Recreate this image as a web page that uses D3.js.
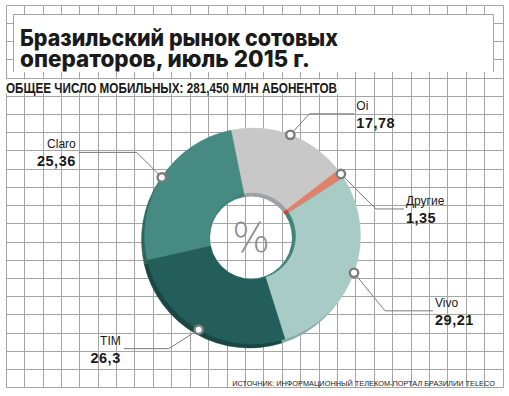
<!DOCTYPE html>
<html><head><meta charset="utf-8">
<script src="https://cdn.jsdelivr.net/npm/d3@7"></script>
<style>body{margin:0;background:#fff}svg{display:block}</style>
</head><body>
<svg id="c" width="509" height="396"></svg>
<script>
// ---- data ----
const categories = ["Oi", "Другие", "Vivo", "TIM", "Claro"];
const values = [17.78, 1.35, 29.21, 26.3, 25.36];
const valueLabels = ["17,78", "1,35", "29,21", "26,3", "25,36"];
const titleLines = ["Бразильский рынок сотовых", "операторов, июль 2015 г."];
const subtitle = "ОБЩЕЕ ЧИСЛО МОБИЛЬНЫХ: 281,450 МЛН АБОНЕНТОВ";
const source = "ИСТОЧНИК: ИНФОРМАЦИОННЫЙ ТЕЛЕКОМ-ПОРТАЛ БРАЗИЛИИ TELECO";
const centerSymbol = "%";

// ---- styles ----
const faceColors = ["#c8c8c9", "#e0826a", "#a9cbc6", "#235e5b", "#468a82"];
const sideColors = ["#a6a6a7", "#b84a38", "#86aaa5", "#184744", "#2c645e"];
const wallColors = ["#a0a1a2", "#c8442f", "#3f857c", "#3f857c", "#3f857c"];
// leader layout per slice: diagonal dx,dy from marker, horizontal run (signed)
const leaderLayout = {
  "Oi":     {dx: 19,  dy: -21, run: 45},
  "Другие": {dx: 35,  dy: 35,  run: 28},
  "Vivo":   {dx: 31,  dy: 38,  run: 48},
  "TIM":    {dx: -30, dy: 19,  run: -45},
  "Claro":  {dx: -25, dy: -25, run: -58}
};

const svg = d3.select("#c");
const gridColor = "#a5a5a5";

// ---- grid ----
const gx0 = 5.7, gx1 = 502.5, gy0 = 4.7, gy1 = 387.3;
const nCols = 27, nRows = 21;
const xs = d3.range(nCols + 1).map(i => Math.round(gx0 + (gx1 - gx0) * i / nCols) + 0.5);
const ys = d3.range(nRows + 1).map(i => Math.round(gy0 + (gy1 - gy0) * i / nRows) + 0.5);
function drawGrid(g) {
  g.selectAll("line.v").data(xs).join("line").attr("class", "v")
    .attr("x1", d => d).attr("x2", d => d).attr("y1", ys[0]).attr("y2", ys[ys.length - 1]);
  g.selectAll("line.h").data(ys).join("line").attr("class", "h")
    .attr("y1", d => d).attr("y2", d => d).attr("x1", xs[0]).attr("x2", xs[xs.length - 1]);
}
drawGrid(svg.append("g").attr("stroke", gridColor).attr("stroke-width", 1));

// ---- title box ----
svg.append("rect").attr("x", 13.5).attr("y", 14.5).attr("width", 480).attr("height", 57.5).attr("fill", "#fff");
svg.append("path").attr("d", "M13.5,72V14.5H493.5V72").attr("fill", "none").attr("stroke", gridColor).attr("stroke-width", 1);
const titleTargets = [{x: 20, y: 45.5, w: 318}, {x: 20, y: 66.5, w: 290}];
const titleText = svg.append("text")
  .attr("font-family", "Inter, 'DejaVu Sans', sans-serif").attr("font-weight", 800)
  .attr("font-size", 22.5).attr("fill", "#1a1a1a");
titleLines.forEach((t, i) => {
  titleText.append("tspan").attr("x", titleTargets[i].x).attr("y", titleTargets[i].y)
    .attr("textLength", titleTargets[i].w).attr("lengthAdjust", "spacingAndGlyphs")
    .text(t);
});

// ---- subtitle ----
svg.append("rect").attr("x", 5).attr("y", 79.5).attr("width", 333).attr("height", 14).attr("fill", "#fff");
svg.append("text").attr("x", 6).attr("y", 92.5)
  .attr("font-family", "'Liberation Sans Narrow', 'Liberation Sans', sans-serif").attr("font-weight", "bold")
  .attr("font-size", 15.5).attr("fill", "#1a1a1a")
  .attr("textLength", 331).attr("lengthAdjust", "spacingAndGlyphs")
  .text(subtitle);

// ---- pie ----
const cx = 252.5, cy = 236, R = 108;
const sideOff = {x: -3, y: 4};
const start = -11.5 * Math.PI / 180;
const pie = d3.pie().sort(null).value(d => d).startAngle(start).endAngle(start + 2 * Math.PI);
const arcs = pie(values);
const arcOuter = d3.arc().innerRadius(0).outerRadius(R);

svg.append("g").attr("transform", `translate(${cx + sideOff.x},${cy + sideOff.y})`)
  .selectAll("path").data(arcs).join("path")
  .attr("d", arcOuter).attr("fill", (d, i) => sideColors[i])
  .attr("stroke", (d, i) => sideColors[i]).attr("stroke-width", 0.5);

svg.append("g").attr("transform", `translate(${cx},${cy})`)
  .selectAll("path").data(arcs).join("path")
  .attr("d", arcOuter).attr("fill", (d, i) => faceColors[i])
  .attr("stroke", (d, i) => faceColors[i]).attr("stroke-width", 0.5);

// inner wall
const wallArc = d3.arc().innerRadius(0).outerRadius(43);
svg.append("g").attr("transform", `translate(${cx},${cy})`)
  .selectAll("path").data(arcs).join("path")
  .attr("d", wallArc).attr("fill", (d, i) => wallColors[i])
  .attr("stroke", (d, i) => wallColors[i]).attr("stroke-width", 0.5);

// hole (white) with grid clipped inside
const hole = {x: cx - 1.5, y: cy + 1.5, r: 41};
svg.append("clipPath").attr("id", "holeClip").append("circle")
  .attr("cx", hole.x).attr("cy", hole.y).attr("r", hole.r);
svg.append("circle").attr("cx", hole.x).attr("cy", hole.y).attr("r", hole.r).attr("fill", "#fff");
drawGrid(svg.append("g").attr("clip-path", "url(#holeClip)").attr("stroke", gridColor).attr("stroke-width", 1));

svg.append("text").attr("x", cx - 1.5).attr("y", cy + 15.5).attr("text-anchor", "middle")
  .attr("font-family", "'DejaVu Sans', sans-serif").attr("font-weight", 200)
  .attr("font-size", 40).attr("fill", "#8e8e8e").text(centerSymbol);

// ---- leaders & labels ----
const markerR = 108;
const lab = svg.append("g");
arcs.forEach((a, i) => {
  const name = categories[i];
  const L = leaderLayout[name];
  const mid = (a.startAngle + a.endAngle) / 2;
  const mx = cx + markerR * Math.sin(mid), my = cy - markerR * Math.cos(mid);
  const ex = mx + L.dx, ey = my + L.dy;
  const hx = ex + L.run;
  lab.append("polyline").attr("points", `${mx},${my} ${ex},${ey} ${hx},${ey}`)
    .attr("fill", "none").attr("stroke", "#7a7a7a").attr("stroke-width", 1);
  lab.append("circle").attr("cx", mx).attr("cy", my).attr("r", 4.2)
    .attr("fill", "#fff").attr("stroke", "#7c7c7c").attr("stroke-width", 2.4);
  const right = L.run > 0;
  const tx = right ? hx + 2 : hx - 3;
  const anchor = right ? "start" : "end";
  lab.append("text").attr("x", tx).attr("y", ey - 4).attr("text-anchor", anchor)
    .attr("font-family", "'Liberation Sans Narrow', 'Liberation Sans', sans-serif")
    .attr("font-size", 12).attr("fill", "#1a1a1a").text(name);
  lab.append("text").attr("x", tx).attr("y", ey + 14).attr("text-anchor", anchor)
    .attr("font-family", "'Liberation Sans', Arial, sans-serif").attr("font-weight", "bold")
    .attr("font-size", 14.5).attr("letter-spacing", 0.5).attr("fill", "#1a1a1a").text(valueLabels[i]);
});

// ---- source (font size fitted to the available width) ----
const src = svg.append("text").attr("x", 495).attr("y", 385.5).attr("text-anchor", "end")
  .attr("font-family", "'Liberation Sans Narrow', 'Liberation Sans', sans-serif")
  .attr("font-size", 10.5).attr("fill", "#1a1a1a")
  .text(source);
const natural = src.node().getComputedTextLength();
if (natural > 263) src.attr("font-size", 10.5 * 263 / natural);
</script>
</body></html>
